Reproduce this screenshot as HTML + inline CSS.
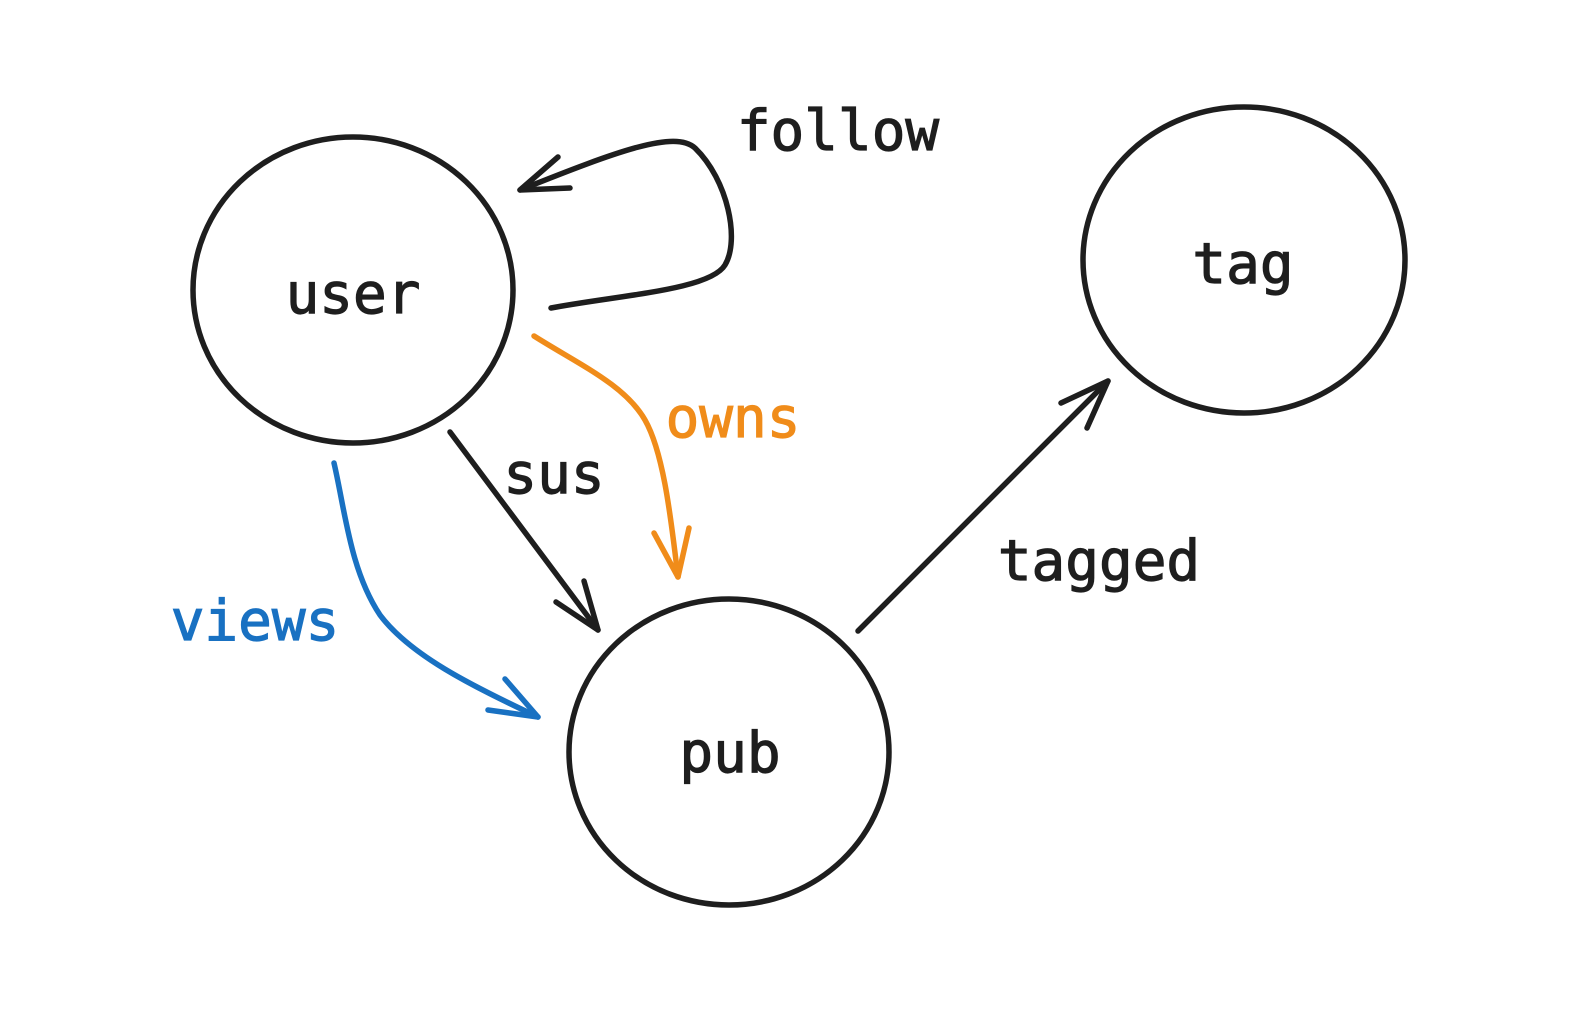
<!DOCTYPE html>
<html><head><meta charset="utf-8"><style>
html,body{margin:0;padding:0;background:#fff;}
svg{display:block;}
text{font-family:"DejaVu Sans Mono","Liberation Mono",monospace;font-size:56px;stroke-width:1.2px;}
</style></head><body>
<svg width="1582" height="1018" viewBox="0 0 1582 1018" xmlns="http://www.w3.org/2000/svg">
<g fill="none" stroke="#1e1e1e" stroke-width="5.5" stroke-linecap="round" stroke-linejoin="round">
<ellipse cx="353" cy="290" rx="160" ry="153"/>
<ellipse cx="1244" cy="260" rx="161" ry="153"/>
<ellipse cx="729" cy="752" rx="160" ry="153"/>
<path d="M551,308 C620,295 710,290 725,265 C740,240 728,180 695,148 C675,130 620,150 520,190"/>
<path d="M558,157 L520,190 L570,188"/>
<path d="M450,432 L598,630"/>
<path d="M556,602 L598,630 L584,581"/>
<path d="M858,631 L1108,381"/>
<path d="M1061,403 L1108,381 L1087,428"/>
</g>
<g fill="none" stroke="#f08c1a" stroke-width="5.5" stroke-linecap="round" stroke-linejoin="round">
<path d="M534,336 C580,365 625,385 645,420 C665,455 672,530 678,577"/>
<path d="M654,533 L678,577 L689,528"/>
</g>
<g fill="none" stroke="#1971c2" stroke-width="5.5" stroke-linecap="round" stroke-linejoin="round">
<path d="M334,463 C345,510 350,570 380,615 C410,655 470,685 538,717"/>
<path d="M488,710 L538,717 L505,679"/>
</g>
<g fill="#1e1e1e" stroke="#1e1e1e" text-anchor="middle">
<text x="353" y="313">user</text>
<text x="1243" y="283">tag</text>
<text x="730" y="772">pub</text>
<text x="838" y="150">follow</text>
<text x="554" y="493">sus</text>
<text x="1099" y="580">tagged</text>
</g>
<text x="733" y="437" fill="#f08c1a" stroke="#f08c1a" text-anchor="middle">owns</text>
<text x="255" y="640" fill="#1971c2" stroke="#1971c2" text-anchor="middle">views</text>
</svg>
</body></html>
